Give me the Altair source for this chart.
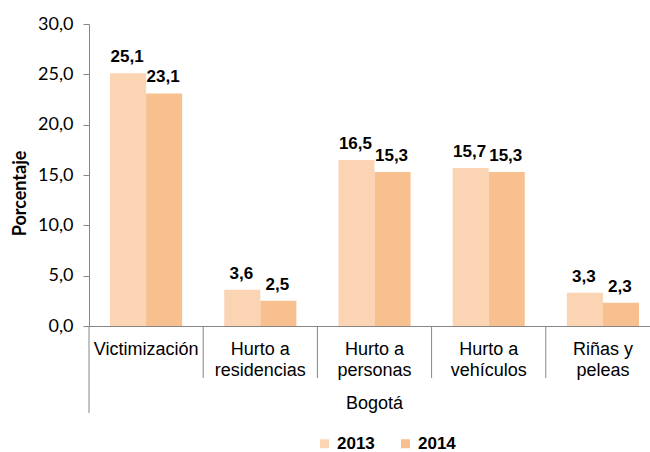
import altair as alt
import pandas as pd

categories = ["Victimización", "Hurto a\nresidencias", "Hurto a\npersonas", "Hurto a\nvehículos", "Riñas y\npeleas"]
years = ["2013", "2014"]
values_2013 = [25.1, 3.6, 16.5, 15.7, 3.3]
values_2014 = [23.1, 2.5, 15.3, 15.3, 2.3]
y_ticks = [0, 5, 10, 15, 20, 25, 30]
region = ["Bogotá"]
colors = ["#FBD4B4", "#F9C08F"]

rows = []
for c, a, b in zip(categories, values_2013, values_2014):
    rows.append({"cat": c, "year": "2013", "value": a})
    rows.append({"cat": c, "year": "2014", "value": b})
df = pd.DataFrame(rows)
cat_df = pd.DataFrame({"cat": categories})
div_df = pd.DataFrame({"cat": categories[1:]})
reg_df = pd.DataFrame({"t": region})

W, H = 561, 302
x_scale = alt.Scale(domain=categories, range=[0, 571], paddingInner=0, paddingOuter=0)
xo_scale = alt.Scale(domain=years, paddingOuter=0.583, paddingInner=0)
y_scale = alt.Scale(domain=[0, 30], nice=False)

base = alt.Chart(df)

bars = base.mark_bar().encode(
    x=alt.X("cat:N", sort=categories, scale=x_scale,
            axis=alt.Axis(labels=False, ticks=False, title=None, domainColor="#868686", domainWidth=1)),
    xOffset=alt.XOffset("year:N", scale=xo_scale),
    y=alt.Y("value:Q", scale=y_scale,
            axis=alt.Axis(values=y_ticks, grid=False,
                          labelExpr="replace(format(datum.value, '.1f'), '.', ',')",
                          labelFont="Lato", labelFontSize=18, labelColor="#000000",
                          labelPadding=10, tickSize=6, tickColor="#868686",
                          domainColor="#868686", domainWidth=1,
                          title="Porcentaje", titleFont="Lato", titleFontSize=18,
                          titleFontWeight="bold", titleColor="#000000",
                          titleX=-69, titleY=169, titleAngle=270,
                          titleAlign="center", titleBaseline="middle")),
    color=alt.Color("year:N", scale=alt.Scale(domain=years, range=colors),
                    legend=alt.Legend(orient="none", legendX=227, legendY=411, direction="horizontal",
                                      title=None, symbolType="square", symbolSize=81,
                                      symbolStrokeWidth=0, labelFont="Liberation Sans",
                                      labelFontSize=17, labelFontWeight="bold", labelColor="#000000",
                                      labelOffset=4, columnPadding=22)),
)

labels = base.transform_calculate(
    lab="replace(format(datum.value, '.1f'), '.', ',')"
).mark_text(font="Liberation Sans", fontSize=17, fontWeight="bold", color="#000000",
            baseline="alphabetic", dy=-11, dx=-1).encode(
    x=alt.X("cat:N", sort=categories, scale=x_scale),
    xOffset=alt.XOffset("year:N", scale=xo_scale),
    y=alt.Y("value:Q", scale=y_scale),
    text="lab:N",
)

cat_labels = alt.Chart(cat_df).mark_text(font="Liberation Sans", fontSize=18, color="#000000",
                                         baseline="alphabetic", lineBreak="\n", lineHeight=21).encode(
    x=alt.X("cat:N", sort=categories, scale=x_scale),
    y=alt.value(331),
    text="cat:N",
)

dividers = alt.Chart(div_df).mark_rule(color="#868686", strokeWidth=1).encode(
    x=alt.X("cat:N", sort=categories, scale=x_scale, bandPosition=0),
    y=alt.value(H),
    y2=alt.value(354),
)

y_ext = alt.Chart(reg_df).mark_rule(color="#868686", strokeWidth=1).encode(
    x=alt.value(0),
    y=alt.value(H),
    y2=alt.value(389),
)

region_label = alt.Chart(reg_df).mark_text(font="Liberation Sans", fontSize=18, color="#000000",
                                           baseline="alphabetic").encode(
    x=alt.value(285.5),
    y=alt.value(385),
    text="t:N",
)

chart = alt.layer(bars, labels, cat_labels, dividers, y_ext, region_label).properties(
    width=W, height=H,
    autosize=alt.AutoSizeParams(type="none"),
    padding={"left": 89, "top": 24, "right": 0, "bottom": 126},
    background="white",
).configure_view(stroke=None)

chart.save("out.html", embed_options={"renderer": "svg", "actions": False})
